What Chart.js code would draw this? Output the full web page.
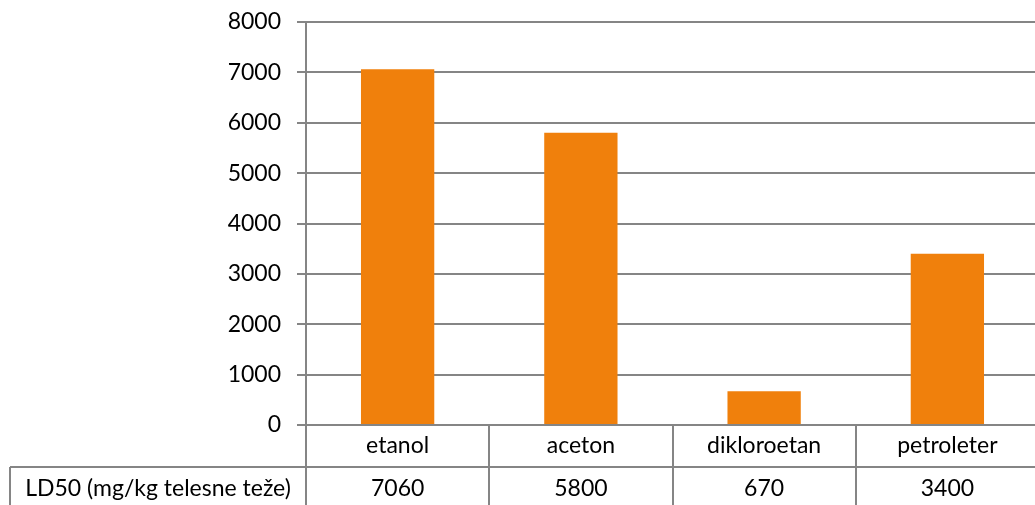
<!DOCTYPE html>
<html>
<head>
<meta charset="utf-8">
<script src="https://cdn.jsdelivr.net/npm/chart.js@4"></script>
<style>
  html, body { margin: 0; padding: 0; background: #fff; overflow: hidden; }
  #wrap { width: 1040px; height: 505px; }
</style>
</head>
<body>
<div id="wrap"><canvas id="chart" width="1040" height="505"></canvas></div>
<script>
// data
const categories = ["etanol", "aceton", "dikloroetan", "petroleter"];
const ld50 = [7060, 5800, 670, 3400];
const seriesName = "LD50 (mg/kg telesne teže)";
const yTicks = [0, 1000, 2000, 3000, 4000, 5000, 6000, 7000, 8000];

const FONT = "Lato";
const GRID = "#858585";

// Excel style data table drawn under the plot area
const dataTable = {
  id: "dataTable",
  afterDraw(chart) {
    const ctx = chart.ctx;
    const x = chart.scales.x;
    const area = chart.chartArea;
    const half = (x.getPixelForValue(1) - x.getPixelForValue(0)) / 2;
    const top = area.bottom;
    const mid = top + 42;
    const bot = mid + 42;
    const labelLeft = 10;

    ctx.save();
    ctx.strokeStyle = GRID;
    ctx.lineWidth = 2;
    ctx.beginPath();
    for (let i = 0; i <= categories.length; i++) {
      const px = Math.round(x.getPixelForValue(i) - half);
      ctx.moveTo(px, top);
      ctx.lineTo(px, bot);
    }
    ctx.moveTo(labelLeft, mid);
    ctx.lineTo(area.right + 5, mid);
    ctx.moveTo(labelLeft, mid);
    ctx.lineTo(labelLeft, bot);
    ctx.stroke();

    ctx.fillStyle = "#000";
    ctx.font = "23px " + FONT;
    ctx.textAlign = "center";
    ctx.textBaseline = "middle";
    categories.forEach((c, i) => {
      const cx = x.getPixelForValue(i);
      ctx.fillText(c, cx, (top + mid) / 2);
      ctx.fillText(String(ld50[i]), cx, (mid + bot) / 2 + 1);
    });
    ctx.fillText(seriesName, (labelLeft + area.left) / 2, (mid + bot) / 2 + 1);
    ctx.restore();
  }
};

new Chart(document.getElementById("chart"), {
  type: "bar",
  data: {
    labels: categories,
    datasets: [{
      label: seriesName,
      data: ld50,
      backgroundColor: "#F0800C",
      borderWidth: 0,
      categoryPercentage: 1,
      barPercentage: 0.4
    }]
  },
  options: {
    responsive: false,
    animation: false,
    layout: { padding: { top: 22, bottom: 80, left: 0, right: 1 } },
    plugins: {
      legend: { display: false },
      tooltip: { enabled: false }
    },
    scales: {
      x: {
        display: false
      },
      y: {
        min: 0,
        max: 8000,
        afterFit(scale) {
          scale.width = 306;
          scale.paddingTop = 0;
          scale.paddingBottom = 0;
        },
        afterBuildTicks(scale) { scale.ticks = yTicks.map(v => ({ value: v })); },
        ticks: {
          color: "#000",
          font: { family: FONT, size: 23 },
          padding: 16,
          callback: v => String(v)
        },
        grid: {
          color: GRID,
          lineWidth: 2,
          tickLength: 9
        },
        border: { color: GRID, width: 2 }
      }
    }
  },
  plugins: [dataTable]
});
</script>
</body>
</html>
